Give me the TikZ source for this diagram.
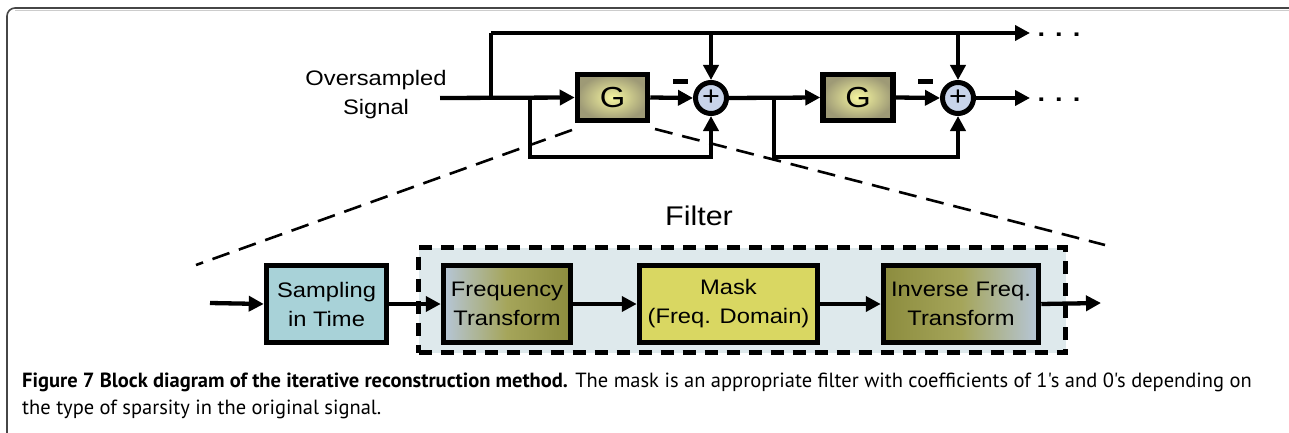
\documentclass[tikz,border=0pt]{standalone}
\usepackage{fontspec}
\setmainfont[FakeStretch=1.13]{Liberation Sans}
\newfontfamily\capfont{PT Sans}
\usetikzlibrary{arrows.meta,calc}
\definecolor{framegray}{RGB}{70,70,70}
\definecolor{sampfill}{RGB}{168,210,216}
\definecolor{maskfill}{RGB}{217,215,98}
\definecolor{filtfill}{RGB}{222,233,236}
\definecolor{bluegray}{RGB}{182,198,216}
\definecolor{olive}{RGB}{140,140,62}
\definecolor{olivemid}{RGB}{165,165,90}
\definecolor{sumfill}{RGB}{200,212,234}
\definecolor{ginner}{RGB}{246,246,160}
\definecolor{gouter}{RGB}{158,154,118}
\tikzset{
  wire/.style={line width=4.3pt, line join=miter},
  arr/.style={wire, -{Triangle[length=15pt,width=15pt]}},
  gbox/.style={draw, line width=5.5pt, shading=radial, inner color=ginner, outer color=gouter,
    minimum width=70pt, minimum height=46pt, inner sep=0pt, font=\fontsize{29}{30}\selectfont},
  sumnode/.style={draw, circle, line width=5pt, fill=sumfill, minimum size=31pt, inner sep=0pt,
    font=\fontsize{27}{27}\selectfont},
  blk/.style={draw, line width=5.5pt, minimum height=77pt, inner sep=0pt, align=center,
    font=\fontsize{21}{29}\selectfont},
  minus/.style={fill=black, minimum width=15pt, minimum height=5pt, inner sep=0pt},
  dots/.style={font=\bfseries\fontsize{24}{24}\selectfont, inner sep=0pt},
  zoomline/.style={line width=2.6pt, dash pattern=on 18pt off 10pt},
  filtbox/.style={draw, line width=5.5pt, dash pattern=on 13pt off 9pt, fill=filtfill,
    minimum width=647pt, minimum height=105pt, inner sep=0pt}
}
\begin{document}
\begin{tikzpicture}[x=1pt,y=-1pt]
\useasboundingbox (0,0) rectangle (1289,433);
% frame
\draw[framegray, line width=1.6pt, rounded corners=8pt] (7,433) -- (7,8) -- (1289,8);
\draw[black!20, line width=1pt] (15,10.5) -- (1289,10.5);

% upper row nodes
\node[align=center, font=\fontsize{21}{29}\selectfont] (insig) at (376,95) {Oversampled\\Signal};
\node[gbox] (G1) at (612.5,97.5) {G};
\node[sumnode] (S1) at (711,98) {+};
\node[gbox] (G2) at (858,97.5) {G};
\node[sumnode] (S2) at (958,98) {+};
\node[minus] (m1) at (680.5,82) {};
\node[minus] (m2) at (925.5,82) {};
\node[dots] (d1) at (1059,35) {. . .};
\node[dots] (d2) at (1059,100) {. . .};

\coordinate (in) at (440,98);
\coordinate (b1) at (491,98);
\coordinate (t1) at (491,33);
\coordinate (tend) at (1030,33);
\coordinate (b2) at (530,98);
\coordinate (c1) at (711,157);
\coordinate (b3) at (774,98);
\coordinate (c2) at (958,157);
\coordinate (oend) at (1030,98);

% lower row nodes
\node[filtbox] (filter) at (742,300) {};
\node[font=\fontsize{27}{30}\selectfont] (filtlbl) at (699,216) {Filter};
\node[blk, fill=sampfill, minimum width=120pt] (samp) at (326.5,304) {Sampling\\in Time};
\node[blk, left color=bluegray, right color=olive, middle color=olivemid, minimum width=127pt] (freq) at (507,304) {Frequency\\Transform};
\node[blk, fill=maskfill, minimum width=178pt] (mask) at (728.5,304) {Mask\\(Freq. Domain)};
\node[blk, left color=olive, right color=bluegray, middle color=olivemid, minimum width=155pt] (inv) at (961,304) {Inverse Freq.\\Transform};
\coordinate (lin) at (210,303);
\coordinate (lout) at (1101,303);

% zoom lines
\coordinate (zl1) at (572,130);
\coordinate (zl2) at (196,265);
\coordinate (zr1) at (655,129);
\coordinate (zr2) at (1105,245);
\draw[zoomline] (zl1) -- (zl2);
\draw[zoomline] (zr1) -- (zr2);

% upper connectors
\draw[arr] (in) -- (G1.west);
\draw[wire] (b1) -- (t1);
\draw[arr] (t1) -- (tend);
\draw[arr] (S1 |- t1) -- (S1.north);
\draw[arr] (S2 |- t1) -- (S2.north);
\draw[arr] (G1.east) -- (S1.west);
\draw[arr] (b2) |- (c1) -- (S1.south);
\draw[arr] (S1.east) -- (G2.west);
\draw[arr] (b3) |- (c2) -- (S2.south);
\draw[arr] (G2.east) -- (S2.west);
\draw[arr] (S2.east) -- (oend);

% lower connectors
\draw[arr] (lin) -- (samp.west);
\draw[arr] (samp.east) -- (freq.west);
\draw[arr] (freq.east) -- (mask.west);
\draw[arr] (mask.east) -- (inv.west);
\draw[arr] (inv.east) -- (lout);

% caption
\node[anchor=west, inner sep=0pt, font=\capfont\fontsize{20.5}{27}\selectfont, align=left] (cap) at (22,396)
{\textbf{Figure 7 Block diagram of the iterative reconstruction method.} The mask is an appropriate filter with coefficients of 1's and 0's depending on\\the type of sparsity in the original signal.};
\end{tikzpicture}
\end{document}
